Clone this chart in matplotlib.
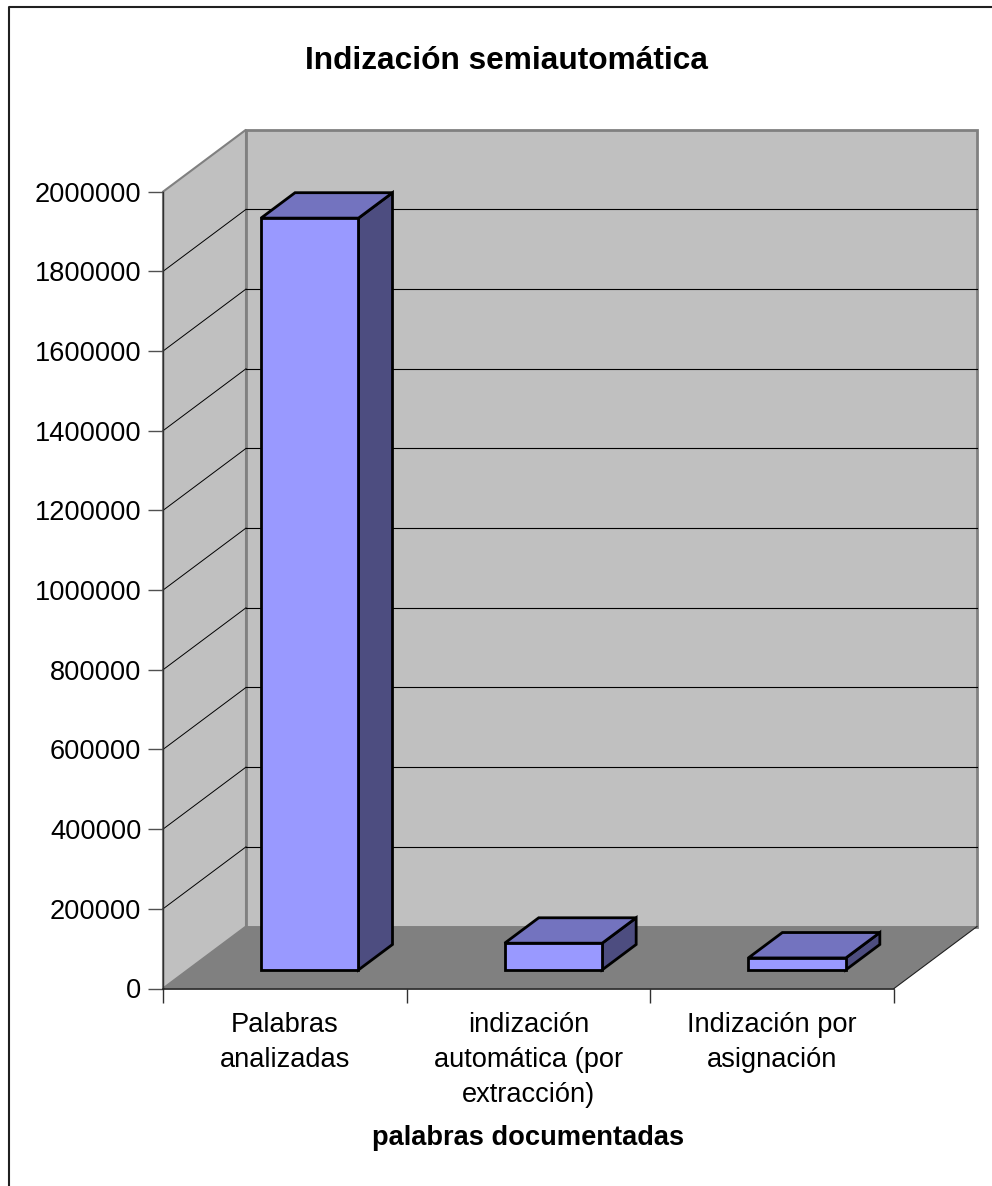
import matplotlib
matplotlib.use("Agg")
import matplotlib.pyplot as plt
from matplotlib.patches import Polygon
from matplotlib.lines import Line2D

plt.rcParams['font.family'] = ['Liberation Sans', 'DejaVu Sans']

# ---- data ----
title = "Indización semiautomática"
xlabel = "palabras documentadas"
categories = ["Palabras\nanalizadas",
              "indización\nautomática (por\nextracción)",
              "Indización por\nasignación"]
values = [1887000, 67000, 30000]
yticks = list(range(0, 2000001, 200000))

# ---- figure ----
W, H = 992, 1186
fig = plt.figure(figsize=(W / 100, H / 100), dpi=100)

# plot area (front plane) in pixels
x0, x1 = 163, 894
yb, yt = 988.5, 191.7
ax = fig.add_axes([x0 / W, (H - yb) / H, (x1 - x0) / W, (yb - yt) / H])
ax.set_xlim(0, 3)
ax.set_ylim(0, 2000000)
ax.patch.set_visible(False)

ncat = len(categories)
ymax = 2000000
# depth offsets in data units
DX = 83 / ((x1 - x0) / ncat)
DY = 62 * ymax / (yb - yt)

wall = "#C0C0C0"
floorc = "#808080"
edgegray = "#808080"

# left side wall
ax.add_patch(Polygon([(0, 0), (DX, DY), (DX, ymax + DY), (0, ymax)],
                     closed=True, facecolor=wall, edgecolor=edgegray,
                     lw=1.5, clip_on=False, zorder=0.5))
# back wall
ax.add_patch(Polygon([(DX, DY), (ncat + DX, DY), (ncat + DX, ymax + DY), (DX, ymax + DY)],
                     closed=True, facecolor=wall, edgecolor=edgegray,
                     lw=2, clip_on=False, zorder=0.5))
# floor
ax.add_patch(Polygon([(0, 0), (ncat, 0), (ncat + DX, DY), (DX, DY)],
                     closed=True, facecolor=floorc, edgecolor="none",
                     lw=0, clip_on=False, zorder=0.6))
ax.add_line(Line2D([ncat, ncat + DX], [0, DY], color="#202020", lw=0.8,
                   clip_on=False, zorder=0.7))

# gridlines on back wall and diagonals on side wall
for v in yticks[1:-1]:
    ax.add_line(Line2D([DX, ncat + DX], [v + DY, v + DY], color="black",
                       lw=0.8, clip_on=False, zorder=0.8))
    ax.add_line(Line2D([0, DX], [v, v + DY], color="black",
                       lw=0.7, clip_on=False, zorder=0.8))

# bars (3D look)
bw = 0.4
f0, f1 = 0.30, 0.71
front_c = "#9999FF"
top_c = "#7373BF"
side_c = "#4D4D80"
for i, v in enumerate(values):
    cx = i + 0.5
    l = cx - bw / 2 + f0 * DX
    r = cx + bw / 2 + f0 * DX
    b = f0 * DY
    t = v + f0 * DY
    ddx = (f1 - f0) * DX
    ddy = (f1 - f0) * DY
    kw = dict(closed=True, edgecolor="black", lw=2.0, clip_on=False,
              joinstyle="miter", zorder=3)
    ax.add_patch(Polygon([(r, b), (r + ddx, b + ddy), (r + ddx, t + ddy), (r, t)],
                         facecolor=side_c, **kw))
    ax.add_patch(Polygon([(l, t), (r, t), (r + ddx, t + ddy), (l + ddx, t + ddy)],
                         facecolor=top_c, **kw))
    ax.add_patch(Polygon([(l, b), (r, b), (r, t), (l, t)],
                         facecolor=front_c, **kw))

# spines and ticks
for s in ("top", "right"):
    ax.spines[s].set_visible(False)
ax.spines["left"].set_color("#303030")
ax.spines["left"].set_linewidth(1.0)
ax.spines["bottom"].set_color("#202020")
ax.spines["bottom"].set_linewidth(1.2)

ax.set_yticks(yticks)
ax.set_yticklabels([str(v) for v in yticks])
ax.tick_params(axis="y", length=11, width=1.0, color="#505050",
               pad=4.5, labelsize=19.6)

ax.set_xticks([0, 1, 2, 3])
ax.set_xticklabels([])
ax.tick_params(axis="x", which="major", length=10, width=1.0, color="#303030")
ax.set_xticks([0.5, 1.5, 2.5], minor=True)
ax.set_xticklabels(categories, minor=True, fontsize=19.6, linespacing=1.45)
ax.tick_params(axis="x", which="minor", length=0, pad=17)

# title and axis label
fig.text(506.5 / W, (H - 69) / H, title, ha="center", va="baseline",
         fontsize=22.8, fontweight="bold")
fig.text(528 / W, (H - 1145) / H, xlabel, ha="center", va="baseline",
         fontsize=19.6, fontweight="bold")

# outer chart border (top and left visible)
fig.add_artist(Line2D([9 / W, 9 / W, 1.0], [0.0, (H - 7) / H, (H - 7) / H],
                      transform=fig.transFigure, color="#202020", lw=1.5))

fig.savefig("out.png", dpi=100)
